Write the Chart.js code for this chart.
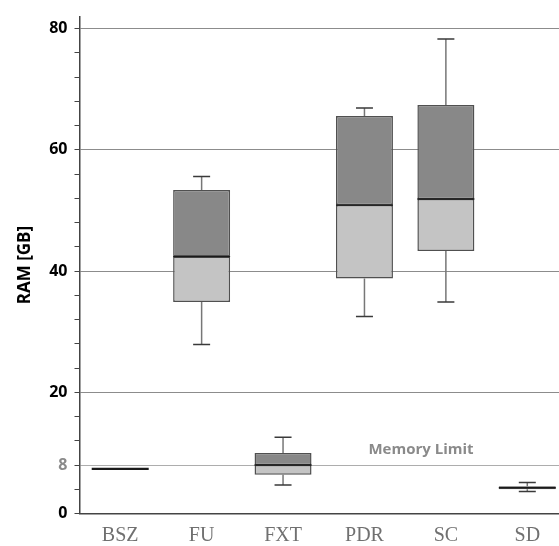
<!DOCTYPE html>
<html>
<head>
<meta charset="utf-8">
<script src="https://cdn.jsdelivr.net/npm/chart.js@4.4.1/dist/chart.umd.min.js"></script>
<style>
  html, body { margin: 0; padding: 0; overflow: hidden; background: #fff; }
  #wrap { position: absolute; left: 0; top: 0; width: 568px; height: 546px; }
</style>
</head>
<body>
<div id="wrap"><canvas id="myChart"></canvas></div>
<script>
const CATEGORIES = ['BSZ', 'FU', 'FXT', 'PDR', 'SC', 'SD'];
const WHISKER_MAX = [7.35, 55.6, 12.6, 66.9, 78.3, 5.1];
const Q3 = [7.35, 53.4, 10.0, 65.6, 67.4, 4.5];
const MEDIAN = [7.35, 42.4, 8.0, 50.9, 51.9, 4.25];
const Q1 = [7.35, 34.9, 6.4, 38.8, 43.3, 4.0];
const WHISKER_MIN = [7.35, 27.9, 4.7, 32.5, 34.9, 3.65];

const Y_TICKS = [0, 4, 8, 12, 16, 20, 24, 28, 32, 36, 40, 44, 48, 52, 56, 60, 64, 68, 72, 76, 80];
const Y_TICK_LABELS = [0, 8, 20, 40, 60, 80];
const Y_GRID_LINES = [20, 40, 60, 80];
const MEMORY_LIMIT = 8;
const MEMORY_LIMIT_LABEL = 'Memory Limit';

const CHART = document.getElementById('myChart').getContext('2d');

// whiskers, caps and medians drawn around the floating bars
const boxPlotPlugin = {
  id: 'boxPlot',
  beforeDatasetsDraw(chart) {
    const ctx = chart.ctx;
    const x = chart.scales.x;
    const y = chart.scales.y;
    ctx.save();
    ctx.strokeStyle = '#777';
    ctx.lineWidth = 1.5;
    CATEGORIES.forEach((c, i) => {
      const px = x.getPixelForValue(i);
      ctx.beginPath();
      ctx.moveTo(px, y.getPixelForValue(Q3[i]));
      ctx.lineTo(px, y.getPixelForValue(WHISKER_MAX[i]));
      ctx.moveTo(px, y.getPixelForValue(Q1[i]));
      ctx.lineTo(px, y.getPixelForValue(WHISKER_MIN[i]));
      ctx.stroke();
    });
    ctx.restore();
  },
  afterDatasetsDraw(chart) {
    const ctx = chart.ctx;
    const x = chart.scales.x;
    const y = chart.scales.y;
    const bars = chart.getDatasetMeta(0).data;
    ctx.save();
    CATEGORIES.forEach((c, i) => {
      const px = x.getPixelForValue(i);
      const half = bars[i].width / 2;
      const capHalf = 8.5;
      ctx.strokeStyle = '#3a3a3a';
      ctx.lineWidth = 1.5;
      ctx.beginPath();
      ctx.moveTo(px - capHalf, y.getPixelForValue(WHISKER_MAX[i]));
      ctx.lineTo(px + capHalf, y.getPixelForValue(WHISKER_MAX[i]));
      ctx.moveTo(px - capHalf, y.getPixelForValue(WHISKER_MIN[i]));
      ctx.lineTo(px + capHalf, y.getPixelForValue(WHISKER_MIN[i]));
      ctx.stroke();

      ctx.strokeStyle = '#1a1a1a';
      ctx.lineWidth = Q3[i] === Q1[i] ? 2.2 : 1.3;
      ctx.beginPath();
      ctx.moveTo(px - half, y.getPixelForValue(MEDIAN[i]));
      ctx.lineTo(px + half, y.getPixelForValue(MEDIAN[i]));
      ctx.stroke();
    });
    ctx.restore();
  },
  afterDraw(chart) {
    const ctx = chart.ctx;
    const x = chart.scales.x;
    const y = chart.scales.y;
    ctx.save();
    ctx.fillStyle = '#8a8a8a';
    ctx.font = 'bold 15px "Open Sans"';
    ctx.textAlign = 'left';
    ctx.textBaseline = 'alphabetic';
    ctx.fillText(MEMORY_LIMIT_LABEL, x.getPixelForValue(3) + 4, y.getPixelForValue(MEMORY_LIMIT) - 11);
    ctx.restore();
  },
};

let ramChart = new Chart(CHART, {
  type: 'bar',
  data: {
    labels: CATEGORIES,
    datasets: [
      {
        label: 'Lower',
        data: CATEGORIES.map((c, i) => [Q1[i], MEDIAN[i]]),
        backgroundColor: '#c4c4c4',
        borderColor: '#505050',
        borderWidth: 1.5,
        borderSkipped: false,
        barPercentage: 0.7,
        categoryPercentage: 1,
        grouped: false,
      },
      {
        label: 'Upper',
        data: CATEGORIES.map((c, i) => [MEDIAN[i], Q3[i]]),
        backgroundColor: '#888888',
        borderColor: '#505050',
        borderWidth: 1.5,
        borderSkipped: false,
        barPercentage: 0.7,
        categoryPercentage: 1,
        grouped: false,
      },
    ],
  },
  options: {
    responsive: true,
    maintainAspectRatio: false,
    animation: false,
    layout: { padding: { top: 14, left: 0, right: 0, bottom: 0 } },
    plugins: {
      legend: { display: false },
      tooltip: { enabled: false },
    },
    scales: {
      x: {
        afterFit: (scale) => { scale.height = 32.5; },
        grid: { display: false, drawTicks: false },
        border: { color: '#444', width: 1.5 },
        ticks: {
          color: '#707070',
          font: { family: 'Liberation Serif', size: 20 },
          padding: 10,
        },
      },
      y: {
        min: 0,
        max: 82,
        z: 1,
        afterBuildTicks: (scale) => {
          scale.ticks = Y_TICKS.map((v) => ({ value: v }));
        },
        afterFit: (scale) => { scale.width = 79.5; },
        grid: {
          color: (ctx) => {
            const v = ctx.tick ? ctx.tick.value : null;
            if (Y_GRID_LINES.includes(v)) return 'rgba(0,0,0,0.45)';
            if (v === MEMORY_LIMIT) return 'rgba(0,0,0,0.32)';
            return 'rgba(0,0,0,0)';
          },
          tickColor: '#444',
          tickLength: 5,
          lineWidth: 1,
        },
        border: { color: '#444', width: 1.5 },
        ticks: {
          autoSkip: false,
          padding: 7,
          callback: (v) => (Y_TICK_LABELS.includes(v) ? String(v) : ''),
          color: (ctx) => (ctx.tick && ctx.tick.value === MEMORY_LIMIT ? '#8a8a8a' : '#000'),
          font: { family: 'Open Sans', size: 16, weight: 'bold' },
        },
        title: {
          display: true,
          text: 'RAM [GB]',
          color: '#000',
          font: { family: 'Open Sans', size: 17, weight: 'bold' },
          padding: { top: 15, bottom: 0 },
        },
      },
    },
  },
  plugins: [boxPlotPlugin],
});
</script>
</body>
</html>
